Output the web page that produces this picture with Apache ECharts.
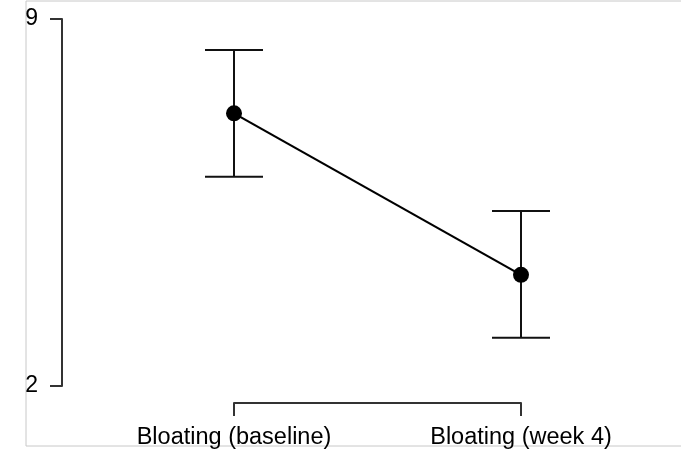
<!DOCTYPE html>
<html>
<head>
<meta charset="utf-8">
<script src="https://cdn.jsdelivr.net/npm/echarts@6/dist/echarts.min.js"></script>
<style>
  html, body { margin: 0; padding: 0; background: #fff; }
  #chart { width: 681px; height: 451px; }
</style>
</head>
<body>
<div id="chart"></div>
<script>
const categories = ["Bloating (baseline)", "Bloating (week 4)"];
const means = [7.2, 4.12];
const lower = [5.99, 2.92];
const upper = [8.41, 5.34];
const yMin = 2;
const yMax = 9;

const chart = echarts.init(document.getElementById("chart"));
const font = "'Liberation Sans', Arial, sans-serif";

chart.setOption({
  animation: false,
  graphic: [
    {
      type: "rect",
      shape: { x: 26, y: 1, width: 700, height: 445 },
      style: { fill: "none", stroke: "#c8c8c8", lineWidth: 1 },
      silent: true
    }
  ],
  grid: { left: 234, right: 160, top: 19, bottom: 65 },
  xAxis: {
    type: "category",
    data: categories,
    boundaryGap: false,
    offset: 17,
    axisLine: { lineStyle: { color: "#333", width: 2 } },
    axisTick: { length: 13, lineStyle: { color: "#333", width: 2 } },
    axisLabel: { color: "#000", fontSize: 23.5, fontFamily: font, margin: 23 },
    splitLine: { show: false }
  },
  yAxis: {
    type: "value",
    min: yMin,
    max: yMax,
    interval: yMax - yMin,
    offset: 172,
    axisLine: { show: true, lineStyle: { color: "#333", width: 2 } },
    axisTick: { show: true, length: 12, lineStyle: { color: "#333", width: 2 } },
    axisLabel: { color: "#000", fontSize: 23, fontFamily: font, margin: 24, padding: [4, 0, 0, 0] },
    splitLine: { show: false }
  },
  series: [
    {
      type: "custom",
      data: categories.map((c, i) => [i, lower[i], upper[i]]),
      renderItem(params, api) {
        const lo = api.coord([api.value(0), api.value(1)]);
        const hi = api.coord([api.value(0), api.value(2)]);
        const w = 29;
        const style = { stroke: "#111", lineWidth: 2 };
        return {
          type: "group",
          children: [
            { type: "line", shape: { x1: lo[0], y1: lo[1], x2: hi[0], y2: hi[1] }, style },
            { type: "line", shape: { x1: lo[0] - w, y1: lo[1], x2: lo[0] + w, y2: lo[1] }, style },
            { type: "line", shape: { x1: hi[0] - w, y1: hi[1], x2: hi[0] + w, y2: hi[1] }, style }
          ]
        };
      },
      z: 1
    },
    {
      type: "line",
      data: means,
      symbol: "circle",
      symbolSize: 16,
      lineStyle: { color: "#000", width: 2.2 },
      itemStyle: { color: "#000" },
      z: 2
    }
  ]
});
</script>
</body>
</html>
